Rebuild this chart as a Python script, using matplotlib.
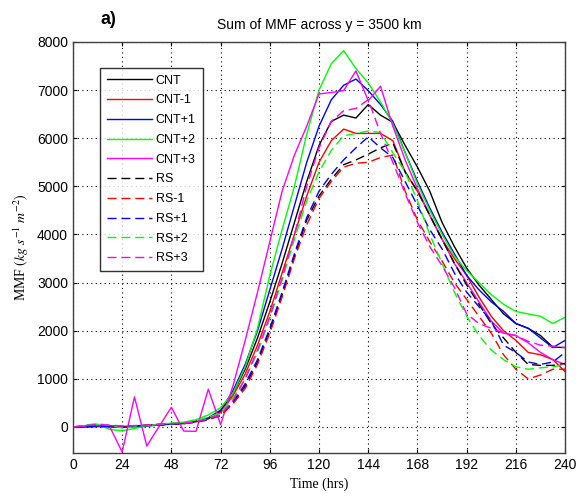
import matplotlib
matplotlib.use("Agg")
import matplotlib.pyplot as plt
import numpy as np

time_hrs = list(range(0, 241, 6))

cnt = [0, 10, 20, 20, 10, 20, 40, 50, 60, 70, 110, 170,
       330, 700, 1200, 1850, 2600, 3400, 4250, 5100, 5850, 6350, 6480, 6420, 6700, 6480,
       6330, 5850, 5400, 4900, 4250, 3750, 3300, 2950, 2650, 2350, 2150, 2050, 1900, 1660, 1650]
cnt_m1 = [0, 20, 30, 20, 0, 10, 30, 50, 60, 80, 120, 180,
          300, 650, 1100, 1700, 2400, 3200, 4000, 4800, 5500, 5950, 6190, 6100, 6100, 6100,
          5950, 5300, 4900, 4400, 3900, 3500, 3150, 2700, 2300, 2000, 1800, 1550, 1500, 1400, 1150]
cnt_p1 = [0, 0, 10, 0, -10, 0, 20, 40, 60, 80, 120, 190,
          350, 750, 1300, 2000, 2850, 3700, 4600, 5500, 6250, 6800, 7100, 7230, 6990, 6700,
          6350, 5700, 5100, 4550, 4050, 3600, 3150, 2850, 2600, 2400, 2150, 2050, 1850, 1650, 1800]
cnt_p2 = [0, 30, 60, -50, -80, -30, 20, 60, 80, 100, 150, 250,
          400, 700, 1250, 2050, 3150, 4100, 5000, 6080, 7000, 7550, 7820, 7450, 7150, 6750,
          6300, 5700, 5050, 4500, 4000, 3550, 3250, 3000, 2750, 2550, 2400, 2350, 2300, 2150, 2280]
cnt_p3 = [0, 20, 30, 0, -520, 625, -395, 10, 410, -85, -90, 785,
          50, 850, 1800, 2800, 3850, 4900, 5650, 6250, 6920, 6950, 6990, 7400, 6780, 7080,
          6250, 5550, 4950, 4400, 3900, 3400, 3000, 2600, 2200, 1950, 1900, 1750, 1550, 1400, 1300]
rs = [0, 10, 20, 20, 10, 20, 30, 50, 60, 70, 100, 150,
      250, 500, 850, 1350, 2000, 2750, 3550, 4300, 4800, 5150, 5450, 5550, 5670, 5800,
      5900, 5300, 4900, 4400, 3900, 3400, 2950, 2550, 2150, 1850, 1550, 1300, 1280, 1280, 1320]
rs_m1 = [0, 20, 40, 30, 10, 20, 30, 50, 60, 70, 100, 160,
         230, 480, 800, 1300, 1950, 2700, 3500, 4200, 4750, 5100, 5400, 5480, 5500, 5600,
         5650, 4900, 4300, 3850, 3450, 3000, 2650, 2300, 1950, 1500, 1200, 1000, 1080, 1200, 1200]
rs_p1 = [0, 10, 10, 10, 0, 10, 30, 40, 60, 80, 110, 160,
         250, 520, 900, 1400, 2050, 2800, 3600, 4350, 4900, 5250, 5550, 5800, 6030, 5800,
         5600, 5100, 4600, 4100, 3700, 3200, 2800, 2500, 2200, 1700, 1550, 1350, 1300, 1350, 1550]
rs_p2 = [0, 40, 70, 30, -20, 0, 30, 50, 70, 90, 130, 200,
         300, 600, 1000, 1550, 2250, 3050, 3900, 4700, 5300, 5750, 6050, 6100, 6150, 6120,
         5700, 5300, 4700, 4000, 3400, 2800, 2300, 1900, 1600, 1400, 1250, 1200, 1230, 1250, 1300]
rs_p3 = [0, 30, 50, 40, 20, 30, 40, 60, 70, 80, 110, 170,
         250, 550, 1000, 1600, 2300, 3100, 4000, 5000, 5800, 6350, 6570, 6620, 6800, 6100,
         5500, 4850, 4250, 3750, 3350, 2900, 2350, 2150, 2050, 1950, 1900, 1780, 1700, 1680, 1650]

series_labels = ["CNT", "CNT-1", "CNT+1", "CNT+2", "CNT+3", "RS", "RS-1", "RS+1", "RS+2", "RS+3"]
series_values = [cnt, cnt_m1, cnt_p1, cnt_p2, cnt_p3, rs, rs_m1, rs_p1, rs_p2, rs_p3]
series_colors = ["#000000", "#ff0000", "#0000ff", "#00ff00", "#ff00ff",
                 "#000000", "#ff0000", "#0000ff", "#00ff00", "#ff00ff"]
x_ticks = list(range(0, 241, 24))
y_ticks = list(range(0, 8001, 1000))

plt.rcParams['mathtext.fontset'] = 'stix'
fig = plt.figure(figsize=(5.79, 4.98), dpi=100)
ax = fig.add_axes([0.126, 0.0904, 0.850, 0.8253])

for lab, vals, col in zip(series_labels, series_values, series_colors):
    if lab.startswith("RS"):
        ax.plot(time_hrs, vals, color=col, lw=1.0, dashes=(6.5, 3.5), label=lab)
    else:
        ax.plot(time_hrs, vals, color=col, lw=1.0, label=lab)

ax.set_xlim(0, 240)
ax.set_ylim(-540, 8000)
ax.set_xticks(x_ticks)
ax.set_yticks(y_ticks)
ax.tick_params(direction='in', length=3, labelsize=10, colors='black', top=True, right=True)
for lbl in ax.get_xticklabels() + ax.get_yticklabels():
    lbl.set_family('Liberation Sans')
ax.grid(True, linestyle=(0, (1, 3)), color='black', linewidth=0.8)
for sp in ax.spines.values():
    sp.set_color('#404040')
    sp.set_linewidth(1.0)

ax.set_title("Sum of MMF across y = 3500 km", fontsize=10, family='Liberation Sans', pad=9)
ax.set_xlabel("Time (hrs)", fontsize=10, family='Liberation Serif')
ax.set_ylabel(r"MMF $(kg\ s^{-1}\ m^{-2})$", fontsize=10, family='Liberation Serif')
fig.text(0.173, 0.952, "a)", fontsize=13, fontweight='bold', family='Liberation Sans', ha='left')

leg = ax.legend(loc='upper left', bbox_to_anchor=(0.055, 0.937), borderaxespad=0.0,
                handlelength=3.6, frameon=True, fancybox=False, borderpad=0.55,
                labelspacing=0.62, handletextpad=0.3, prop={'family': 'Liberation Sans', 'size': 9})
leg.get_frame().set_edgecolor('black')
leg.get_frame().set_linewidth(1.0)

fig.savefig("out.png", dpi=100)
